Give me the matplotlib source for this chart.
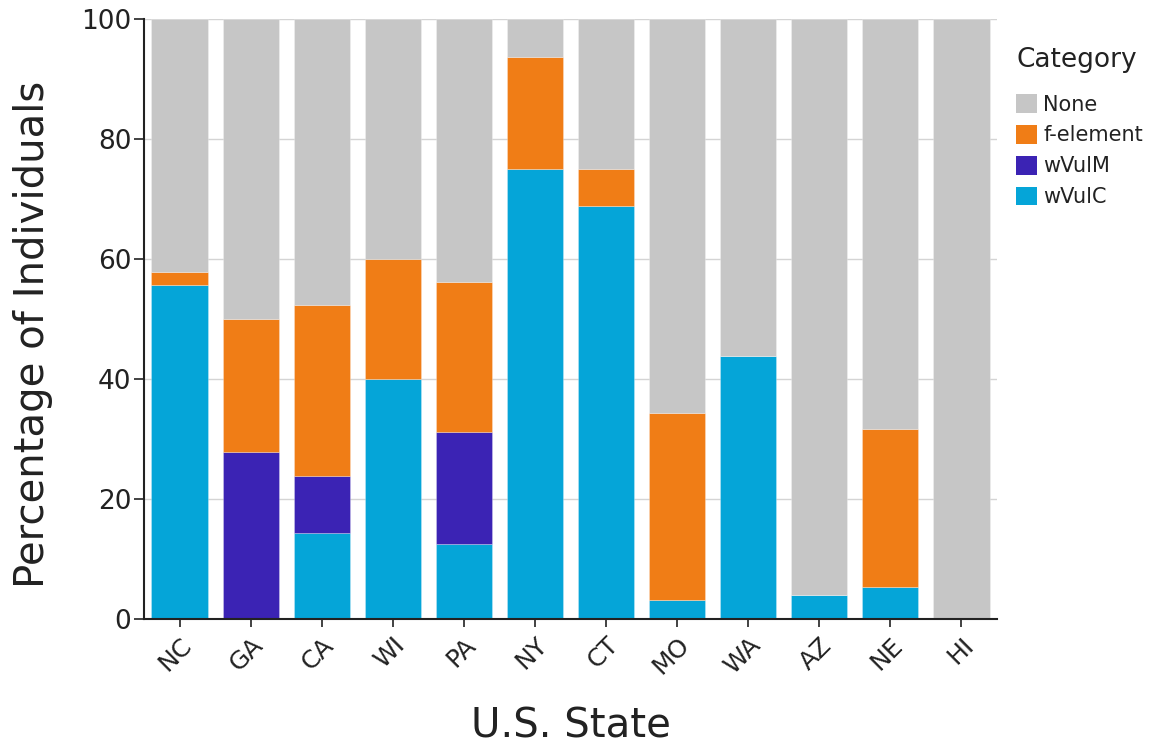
import numpy as np
import matplotlib
matplotlib.use("Agg")
import matplotlib.pyplot as plt
from matplotlib.patches import Patch

plt.rcParams["font.family"] = ["DejaVu Sans"]

# Data (percent of individuals per state)
states = ["NC", "GA", "CA", "WI", "PA", "NY", "CT", "MO", "WA", "AZ", "NE", "HI"]
wvulc = [55.6, 0.0, 14.3, 40.0, 12.5, 75.0, 68.8, 3.1, 43.8, 4.0, 5.3, 0.0]
wvulm = [0.0, 27.8, 9.5, 0.0, 18.7, 0.0, 0.0, 0.0, 0.0, 0.0, 0.0, 0.0]
felement = [2.2, 22.2, 28.6, 20.0, 25.0, 18.7, 6.2, 31.3, 0.0, 0.0, 26.3, 0.0]
categories = ["None", "f-element", "wVulM", "wVulC"]
colors = {"None": "#c6c6c6", "f-element": "#f07d16", "wVulM": "#3b23b4", "wVulC": "#05a5d8"}

wvulc = np.array(wvulc)
wvulm = np.array(wvulm)
felement = np.array(felement)
none = 100 - wvulc - wvulm - felement

fig = plt.figure(figsize=(11.49, 7.49), dpi=100)
ax = fig.add_axes([0.1253, 0.1736, 0.7424, 0.801])

x = np.arange(len(states))
w = 0.79
bottom = np.zeros(len(states))
for name, vals in [("wVulC", wvulc), ("wVulM", wvulm), ("f-element", felement), ("None", none)]:
    ax.bar(x, vals, w, bottom=bottom, color=colors[name], edgecolor=(1, 1, 1, 0.3),
           linewidth=0.6, zorder=2)
    bottom += vals

ax.set_xlim(-0.5, len(states) - 0.5)
ax.set_ylim(0, 100)
ax.set_yticks([0, 20, 40, 60, 80, 100])
ax.yaxis.grid(True, color="#d4d4d4", linewidth=1, zorder=0)
ax.set_axisbelow(True)

for s in ["top", "right"]:
    ax.spines[s].set_visible(False)
for s in ["left", "bottom"]:
    ax.spines[s].set_color("#222222")
    ax.spines[s].set_linewidth(1.5)

ax.set_xticks(x)
ax.set_xticklabels(states, rotation=45, ha="right", rotation_mode="anchor", fontsize=18,
                   color="#222222")
ax.tick_params(axis="y", labelsize=19, colors="#222222", length=7, width=1.2, pad=2)
ax.tick_params(axis="x", length=6, width=1.2, colors="#222222", pad=4)

ax.set_ylabel("Percentage of Individuals", fontsize=29, color="#222222", labelpad=20)
ax.yaxis.label.set_y(0.475)
ax.set_xlabel("U.S. State", fontsize=29, color="#222222", labelpad=20)

handles = [Patch(facecolor=colors[c], edgecolor="none") for c in categories]
leg = fig.legend(handles, categories, title="Category", loc="upper left",
                 bbox_to_anchor=(0.877, 0.948), frameon=False, fontsize=15,
                 title_fontsize=19, handlelength=1.0, handleheight=1.0,
                 handletextpad=0.3, labelspacing=0.5, borderaxespad=0,
                 labelcolor="#222222")
leg.get_title().set_color("#222222")
leg._legend_box.align = "left"
leg._legend_box.sep = 15  # a bit more room under the title

fig.savefig("out.png", dpi=100)
